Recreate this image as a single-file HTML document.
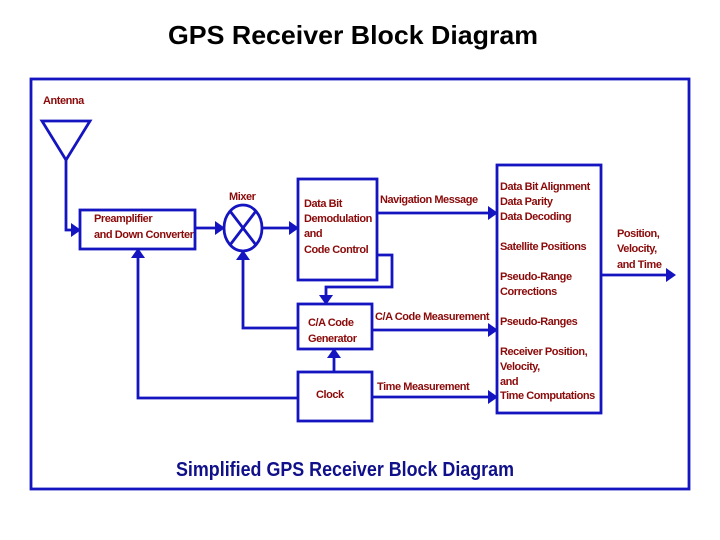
<!DOCTYPE html>
<html><head><meta charset="utf-8"><style>
html,body{margin:0;padding:0;background:#fff;}
svg{display:block;}
.t{font-family:"Liberation Sans",sans-serif;font-weight:bold;font-size:11px;letter-spacing:-0.45px;fill:#8b0a0a;}
</style></head><body>
<svg width="720" height="540" viewBox="0 0 720 540" xmlns="http://www.w3.org/2000/svg">
<text x="353" y="44" text-anchor="middle" font-family="Liberation Sans, sans-serif" font-weight="bold" font-size="26" textLength="370" lengthAdjust="spacingAndGlyphs">GPS Receiver Block Diagram</text>
<g fill="none" stroke="#1414c0" stroke-width="2.8">
<rect x="31" y="79" width="658" height="410"/>
<polygon points="42,121 90,121 66,160"/>
<polyline points="66,160 66,230 78,230"/>
<rect x="80" y="210" width="115" height="39"/>
<ellipse cx="243" cy="228" rx="19" ry="23"/>
<line x1="230" y1="211" x2="256" y2="245"/>
<line x1="256" y1="211" x2="230" y2="245"/>
<line x1="195" y1="228" x2="222" y2="228"/>
<line x1="262" y1="228" x2="296" y2="228"/>
<rect x="298" y="179" width="79" height="101"/>
<line x1="377" y1="213" x2="494" y2="213"/>
<polyline points="377,255 392,255 392,287 326,287 326,300"/>
<rect x="298" y="304" width="74" height="45"/>
<polyline points="298,328 243,328 243,254"/>
<line x1="372" y1="330" x2="494" y2="330"/>
<rect x="298" y="372" width="74" height="49"/>
<line x1="334" y1="372" x2="334" y2="352"/>
<polyline points="298,398 138,398 138,252"/>
<line x1="372" y1="397" x2="494" y2="397"/>
<rect x="497" y="165" width="104" height="248"/>
<line x1="601" y1="275" x2="670" y2="275"/>
</g>
<g fill="#1414c0">
<polygon points="81,230 71,223 71,237"/>
<polygon points="225,228 215,221 215,235"/>
<polygon points="299,228 289,221 289,235"/>
<polygon points="498,213 488,206 488,220"/>
<polygon points="326,305 319,295 333,295"/>
<polygon points="243,250 236,260 250,260"/>
<polygon points="498,330 488,323 488,337"/>
<polygon points="334,348 327,358 341,358"/>
<polygon points="138,248 131,258 145,258"/>
<polygon points="498,397 488,390 488,404"/>
<polygon points="676,275 666,268 666,282"/>
</g>
<g class="t">
<text x="43" y="104">Antenna</text>
<text x="229" y="200">Mixer</text>
<text x="94" y="222">Preamplifier</text>
<text x="94" y="238">and Down Converter</text>
<text x="304" y="207">Data Bit</text>
<text x="304" y="222">Demodulation</text>
<text x="304" y="237">and</text>
<text x="304" y="253">Code Control</text>
<text x="380" y="203">Navigation Message</text>
<text x="308" y="326">C/A Code</text>
<text x="308" y="342">Generator</text>
<text x="375" y="320">C/A Code Measurement</text>
<text x="316" y="398">Clock</text>
<text x="377" y="390">Time Measurement</text>
<text x="500" y="190">Data Bit Alignment</text>
<text x="500" y="205">Data Parity</text>
<text x="500" y="220">Data Decoding</text>
<text x="500" y="250">Satellite Positions</text>
<text x="500" y="280">Pseudo-Range</text>
<text x="500" y="295">Corrections</text>
<text x="500" y="325">Pseudo-Ranges</text>
<text x="500" y="355">Receiver Position,</text>
<text x="500" y="370">Velocity,</text>
<text x="500" y="385">and</text>
<text x="500" y="399">Time Computations</text>
<text x="617" y="237">Position,</text>
<text x="617" y="252">Velocity,</text>
<text x="617" y="268">and Time</text>
</g>
<text x="176" y="476" font-family="Liberation Sans, sans-serif" font-weight="bold" font-size="20" fill="#10108a" textLength="338" lengthAdjust="spacingAndGlyphs">Simplified GPS Receiver Block Diagram</text>
</svg>
</body></html>
